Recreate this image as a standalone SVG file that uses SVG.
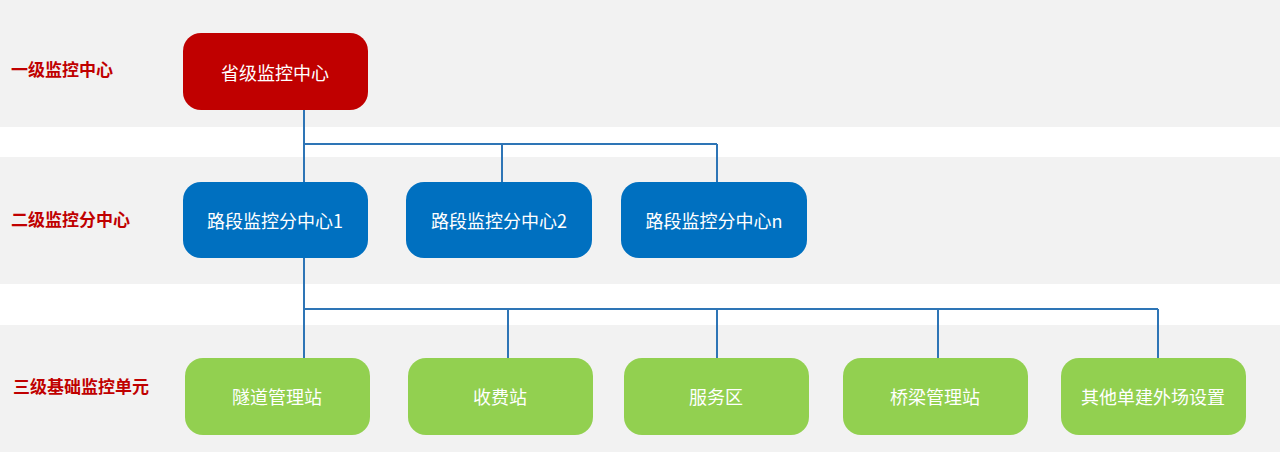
<svg xmlns="http://www.w3.org/2000/svg" width="1280" height="452" viewBox="0 0 1280 452">
<style>
.band{fill:#f2f2f2}
.lvl{font-family:"Noto Sans CJK SC",sans-serif;font-weight:bold;font-size:17px;fill:#c00000}
.t{font-family:"Noto Sans CJK SC",sans-serif;font-size:18px;fill:#fff;text-anchor:middle;dominant-baseline:central}
.c{stroke:#2e75b6;stroke-width:2;fill:none}
</style>
<rect width="1280" height="452" fill="#fff"/>
<rect class="band" x="0" y="0" width="1280" height="127"/>
<rect class="band" x="0" y="157" width="1280" height="127"/>
<rect class="band" x="0" y="325" width="1280" height="127"/>
<text class="lvl" x="11" y="76">一级监控中心</text>
<text class="lvl" x="11" y="226">二级监控分中心</text>
<text class="lvl" x="13" y="393">三级基础监控单元</text>
<g id="connectors">
<path class="c" d="M304 110V182M304 144H717M502 144V182M717 144V182"/>
<path class="c" d="M304 258V358M304 309H1158M508 309V358M717 309V358M938 309V358M1158 309V358"/>
</g>
<g id="n1"><rect x="183" y="33" width="185" height="77" rx="18" fill="#c00000"/><text class="t" x="275" y="72">省级监控中心</text></g>
<g id="n2"><rect x="183" y="182" width="185" height="76" rx="18" fill="#0070c0"/><text class="t" x="275" y="220">路段监控分中心1</text></g>
<g id="n3"><rect x="406" y="182" width="186" height="76" rx="18" fill="#0070c0"/><text class="t" x="499" y="220">路段监控分中心2</text></g>
<g id="n4"><rect x="621" y="182" width="186" height="76" rx="18" fill="#0070c0"/><text class="t" x="714" y="220">路段监控分中心n</text></g>
<g id="n5"><rect x="185" y="358" width="185" height="77" rx="18" fill="#92d050"/><text class="t" x="277" y="396">隧道管理站</text></g>
<g id="n6"><rect x="408" y="358" width="185" height="77" rx="18" fill="#92d050"/><text class="t" x="500" y="396">收费站</text></g>
<g id="n7"><rect x="624" y="358" width="185" height="77" rx="18" fill="#92d050"/><text class="t" x="716" y="396">服务区</text></g>
<g id="n8"><rect x="843" y="358" width="185" height="77" rx="18" fill="#92d050"/><text class="t" x="935" y="396">桥梁管理站</text></g>
<g id="n9"><rect x="1061" y="358" width="185" height="77" rx="18" fill="#92d050"/><text class="t" x="1153" y="396">其他单建外场设置</text></g>
</svg>
